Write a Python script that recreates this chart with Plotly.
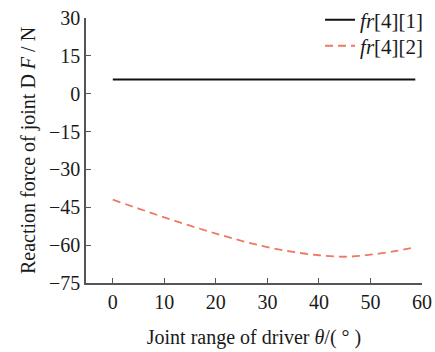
import plotly.graph_objects as go

theta1 = [0, 58.7]
fr41 = [5.6, 5.6]
theta2 = [0, 5, 10, 15, 20, 25, 30, 35, 40, 45, 50, 55, 58.7]
fr42 = [-42.0, -45.5, -49.0, -52.3, -55.4, -58.3, -60.8, -62.7, -64.0, -64.6, -63.8, -62.3, -60.8]
xticks = [0, 10, 20, 30, 40, 50, 60]
yticks = [30, 15, 0, -15, -30, -45, -60, -75]

FONT = "Liberation Serif"

fig = go.Figure()
fig.add_trace(go.Scatter(x=theta1, y=fr41, mode="lines", name="<i>fr</i>[4][1]",
                         line=dict(color="#111111", width=2), legend="legend"))
fig.add_trace(go.Scatter(x=theta2, y=fr42, mode="lines", name="<i>fr</i>[4][2]",
                         line=dict(color="#EC7A60", width=1.8, dash="8px,5px", shape="spline"),
                         legend="legend2"))

leg_common = dict(xanchor="right", yanchor="middle", bgcolor="rgba(0,0,0,0)",
                  font=dict(family=FONT, size=21), itemwidth=30)

fig.update_layout(
    width=435, height=352,
    margin=dict(l=86, r=13, t=18, b=69, autoexpand=False),
    paper_bgcolor="white", plot_bgcolor="white",
    font=dict(family=FONT, size=20, color="#1a1a1a"),
    showlegend=True,
    legend=dict(x=1.018, y=0.9925, **leg_common),
    legend2=dict(x=1.018, y=0.894, **leg_common),
    xaxis=dict(range=[-5.2, 60], tickvals=xticks, ticks="inside", ticklen=5, automargin=False,
               tickcolor="#555555", showline=True, linecolor="#555555", linewidth=1.5,
               showgrid=False, zeroline=False, tickfont=dict(size=20),
               title=dict(text="Joint range of driver <i>θ</i>/( ° )", font=dict(size=20), standoff=18)),
    yaxis=dict(range=[-75, 30], tickvals=yticks, ticktext=["30", "15", "0", "−15", "−30", "−45", "−60", "−75"],
               ticks="inside", ticklen=5, automargin=False,
               tickcolor="#555555", showline=True, linecolor="#555555", linewidth=1.5,
               showgrid=False, zeroline=False, tickfont=dict(size=20),
               title=dict(text="Reaction force of joint D <i>F</i> / N", font=dict(size=20), standoff=8)),
)

fig.write_html("out.html")
